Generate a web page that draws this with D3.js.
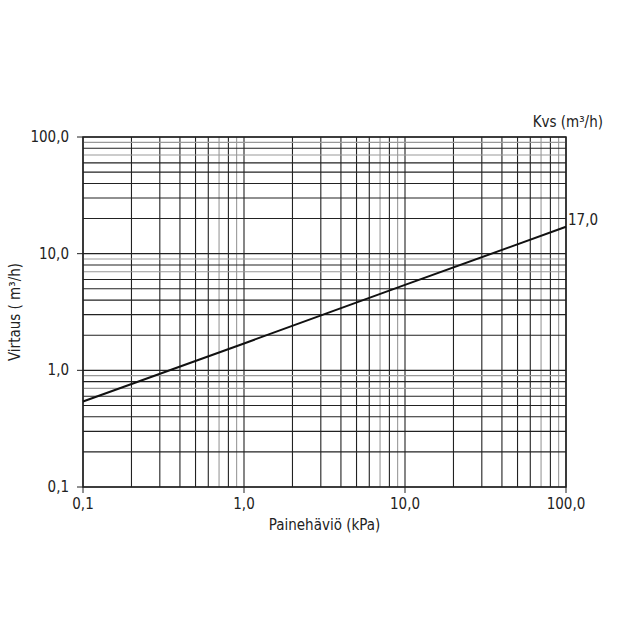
<!DOCTYPE html>
<html><head><meta charset="utf-8">
<script src="https://cdn.jsdelivr.net/npm/d3@7"></script>
<style>body{margin:0;background:#fff}text{font-family:"Liberation Sans Narrow","DejaVu Sans Condensed",sans-serif;fill:#222}</style>
</head><body><div id="chart"></div>
<script>
var pressure = [0.1, 1, 10, 100];          // kPa
var flow = [0.54, 1.7, 5.4, 17.0];          // m3/h, Kvs 17,0
var xTicks = [0.1, 1, 10, 100];
var yTicks = [0.1, 1, 10, 100];
var tickLabels = ["0,1", "1,0", "10,0", "100,0"];

var width = 640, height = 640,
    margin = {left: 83, right: 74, top: 137, bottom: 153};

var svg = d3.select("#chart").append("svg")
            .attr("width", width).attr("height", height);

var x = d3.scaleLog().domain([0.1, 100]).range([margin.left, width - margin.right]);
var y = d3.scaleLog().domain([0.1, 100]).range([height - margin.bottom, margin.top]);

var minors = [];
[0.1, 1, 10].forEach((d) => { for (var i = 1; i < 10; i++) minors.push(d * i); });
minors.push(100);

svg.selectAll(".vg").data(minors).enter().append("line")
   .attr("x1", (d) => x(d)).attr("x2", (d) => x(d))
   .attr("y1", y(0.1)).attr("y2", y(100))
   .style("stroke", (d, i) => (i % 9 === 6 || i % 9 === 8) ? "#999" : "#222")
   .style("stroke-width", 1.1);

svg.selectAll(".hg").data(minors).enter().append("line")
   .attr("y1", (d) => y(d)).attr("y2", (d) => y(d))
   .attr("x1", x(0.1)).attr("x2", x(100))
   .style("stroke", (d, i) => (i % 9 === 6 || i % 9 === 8) ? "#999" : "#222")
   .style("stroke-width", 1.1);

svg.append("rect").attr("x", x(0.1)).attr("y", y(100))
   .attr("width", x(100) - x(0.1)).attr("height", y(0.1) - y(100))
   .style("fill", "none").style("stroke", "#222").style("stroke-width", 1.5);

// outer ticks
svg.selectAll(".yt").data(yTicks).enter().append("line")
   .attr("x1", x(0.1) - 6).attr("x2", x(0.1)).attr("y1", (d) => y(d)).attr("y2", (d) => y(d))
   .style("stroke", "#222");
svg.selectAll(".xt").data(xTicks).enter().append("line")
   .attr("y1", y(0.1)).attr("y2", y(0.1) + 6).attr("x1", (d) => x(d)).attr("x2", (d) => x(d))
   .style("stroke", "#222");

svg.selectAll(".yl").data(yTicks).enter().append("text")
   .attr("x", x(0.1) - 14).attr("y", (d) => y(d) + 5)
   .style("text-anchor", "end").style("font-size", "15px")
   .text((d, i) => tickLabels[i]);
svg.selectAll(".xl").data(xTicks).enter().append("text")
   .attr("x", (d) => x(d)).attr("y", y(0.1) + 22)
   .style("text-anchor", "middle").style("font-size", "15px")
   .text((d, i) => tickLabels[i]);

var line = d3.line().x((d) => x(d[0])).y((d) => y(d[1]));
svg.append("path").datum(d3.zip(pressure, flow)).attr("d", line)
   .style("fill", "none").style("stroke", "#111").style("stroke-width", 2);

svg.append("text").attr("x", x(100) + 2).attr("y", y(17) - 2)
   .style("font-size", "15px").text("17,0");
svg.append("text").attr("x", 603).attr("y", 127)
   .style("text-anchor", "end").style("font-size", "15px").text("Kvs (m³/h)");
svg.append("text").attr("x", (x(0.1) + x(100)) / 2).attr("y", 530)
   .style("text-anchor", "middle").style("font-size", "15px").text("Painehäviö (kPa)");
svg.append("text").attr("transform", `translate(20,${(y(0.1) + y(100)) / 2}) rotate(-90)`)
   .style("text-anchor", "middle").style("font-size", "15px").text("Virtaus ( m³/h)");
</script></body></html>
